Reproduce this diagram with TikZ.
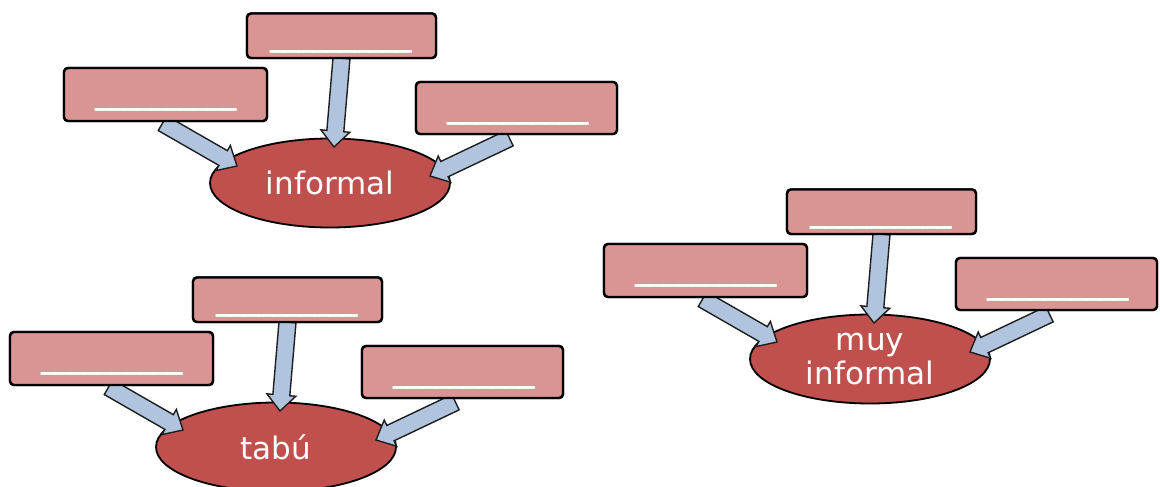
\documentclass[tikz,border=0pt]{standalone}
\usepackage{fontspec}
\setmainfont{DejaVu Sans}
\newfontfamily\blankfont{Liberation Sans}
\usetikzlibrary{calc,shapes.geometric}
\definecolor{boxfill}{RGB}{217,149,148}
\definecolor{ellfill}{RGB}{192,80,77}
\definecolor{arrfill}{RGB}{176,196,222}
\definecolor{arrline}{RGB}{30,30,30}
\tikzset{
  boxsty/.style={draw=black, line width=2.4pt, fill=boxfill, rounded corners=4pt, inner sep=0pt},
  ellsty/.style={ellipse, draw=black, line width=1.8pt, fill=ellfill, minimum width=240pt, minimum height=89pt, inner sep=0pt},
  lblsty/.style={text=white, font=\fontsize{31}{34}\selectfont, align=center, inner sep=0pt},
  blanksty/.style={text=white, font=\blankfont\fontsize{27.9}{30}\selectfont, inner sep=0pt, anchor=base},
  arrsty/.style={fill=arrfill, draw=arrline, line width=1.4pt, line join=miter},
}
\newcommand\blockarrow[2]{%
  \coordinate (#2neck) at ($(#2)!16pt!(#1)$);
  \draw[arrsty] ($(#1)!8.5pt!90:(#2)$) -- ($(#2neck)!8.5pt!90:(#2)$) -- ($(#2neck)!14.5pt!90:(#2)$)
    -- (#2) -- ($(#2neck)!14.5pt!-90:(#2)$) -- ($(#2neck)!8.5pt!-90:(#2)$) -- ($(#1)!8.5pt!-90:(#2)$) -- cycle;}
\newcommand\us{\_\kern-1.5pt}
\newcommand\blanktext{\scalebox{1}[1.6]{\us\us\us\us\us\us\us\us\us\_}}
% #1 prefix, #2 dx, #3 dy, #4 label
\newcommand\cluster[4]{%
  \node[ellsty] (#1e) at ({330+#2},{183+#3}) {};
  \node[lblsty] (#1lbl) at (#1e.center) {#4};
  \node[boxsty, minimum width=189pt, minimum height=44.5pt] (#1t) at ({341.5+#2},{35.75+#3}) {};
  \node[boxsty, minimum width=203pt, minimum height=53pt] (#1l) at ({165.5+#2},{94.5+#3}) {};
  \node[boxsty, minimum width=201pt, minimum height=52pt] (#1r) at ({516.5+#2},{108+#3}) {};
  \coordinate (#1ta) at ([yshift=1pt]#1t.south);
  \coordinate (#1tb) at ([xshift=4pt,yshift=36pt]#1e.center);
  \coordinate (#1la) at ([xshift=-3pt,yshift=-1pt]#1l.south);
  \coordinate (#1lb) at ([xshift=-93pt,yshift=17pt]#1e.center);
  \coordinate (#1ra) at ([xshift=-7pt,yshift=-3pt]#1r.south);
  \coordinate (#1rb) at ([xshift=100pt,yshift=7pt]#1e.center);
  \blockarrow{#1la}{#1lb}
  \blockarrow{#1ra}{#1rb}
  \blockarrow{#1ta}{#1tb}
  \node[boxsty, minimum width=189pt, minimum height=44.5pt] at (#1t) {};
  \node[boxsty, minimum width=203pt, minimum height=53pt] at (#1l) {};
  \node[boxsty, minimum width=201pt, minimum height=52pt] at (#1r) {};
  \node[blanksty] (#1tx) at ([yshift=14.4pt]#1t.south) {\blanktext};
  \node[blanksty] (#1lx) at ([xshift=0.5pt,yshift=19.4pt]#1l.south) {\blanktext};
  \node[blanksty] (#1rx) at ([xshift=1.5pt,yshift=18.4pt]#1r.south) {\blanktext};
}
\begin{document}
\begin{tikzpicture}[x=1pt,y=-1pt]
\useasboundingbox (0,0) rectangle (1160,487);
\fill[white] (0,0) rectangle (1160,487);
\cluster{a}{0}{0}{informal}
\cluster{b}{540}{176}{muy\\informal}
\cluster{c}{-54}{264}{tabú}
\end{tikzpicture}
\end{document}
